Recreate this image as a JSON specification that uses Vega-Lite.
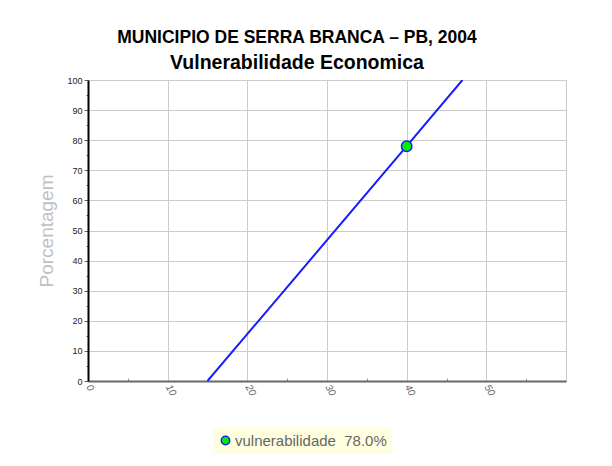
{
  "$schema": "https://vega.github.io/schema/vega-lite/v6.json",
  "width": 478,
  "height": 301,
  "autosize": "none",
  "padding": {"left": 88, "top": 80, "right": 46, "bottom": 85},
  "background": "white",
  "title": {
    "text": "MUNICIPIO DE SERRA BRANCA – PB, 2004",
    "subtitle": "Vulnerabilidade Economica",
    "anchor": "middle",
    "frame": "group",
    "dx": -30,
    "offset": 4,
    "font": "Liberation Sans",
    "fontSize": 17.5,
    "fontWeight": "bold",
    "color": "#000000",
    "subtitleFont": "Liberation Sans",
    "subtitleFontSize": 19.5,
    "subtitleFontWeight": "bold",
    "subtitleColor": "#000000",
    "subtitlePadding": 7
  },
  "datasets": {
    "linha": [
      {"x": 15, "y": 0},
      {"x": 40, "y": 78},
      {"x": 47, "y": 100}
    ],
    "ponto": [
      {"x": 40, "y": 78, "serie": "vulnerabilidade  78.0%"}
    ]
  },
  "layer": [
    {
      "data": {"name": "linha"},
      "mark": {"type": "line", "color": "#1a1aff", "strokeWidth": 2, "clip": true},
      "encoding": {
        "x": {
          "field": "x", "type": "quantitative",
          "scale": {"domain": [0, 60], "nice": false, "zero": false},
          "axis": {
            "values": [0, 5, 10, 15, 20, 25, 30, 35, 40, 45, 50, 55],
            "tickCount": 40,
            "labelExpr": "datum.value % 10 === 0 ? datum.label : ''",
            "title": null,
            "labelAngle": 60,
            "labelAlign": "left",
            "labelBaseline": "middle",
            "labelFont": "Liberation Sans",
            "labelFontStyle": "italic",
            "labelFontSize": 10,
            "labelColor": "#666666",
            "labelPadding": 4,
            "labelOverlap": false,
            "domainColor": "#666666",
            "domainWidth": 2,
            "gridColor": "#cccccc",
            "gridWidth": 1,
            "gridOpacity": {"condition": {"test": "datum.value % 10 !== 0", "value": 0}, "value": 1},
            "tickColor": "#999999",
            "tickSize": {"condition": {"test": "datum.value % 10 !== 0", "value": -3}, "value": 0}
          }
        },
        "y": {
          "field": "y", "type": "quantitative",
          "scale": {"domain": [0, 100], "nice": false},
          "axis": {
            "values": [0, 5, 10, 15, 20, 25, 30, 35, 40, 45, 50, 55, 60, 65, 70, 75, 80, 85, 90, 95, 100],
            "tickCount": 40,
            "labelExpr": "datum.value % 10 === 0 ? datum.label : ''",
            "labelOverlap": false,
            "title": "Porcentagem",
            "titleFont": "Liberation Sans",
            "titleFontSize": 19,
            "titleFontWeight": "normal",
            "titleColor": "#c0c0c0",
            "titlePadding": 10,
            "labelFont": "Liberation Sans",
            "labelFontSize": 9,
            "labelColor": "#222222",
            "labelPadding": 2,
            "domainColor": "#000000",
            "domainWidth": 2,
            "gridColor": "#cccccc",
            "gridWidth": 1,
            "gridOpacity": {"condition": {"test": "datum.value % 10 !== 0", "value": 0}, "value": 1},
            "tickColor": "#666666",
            "tickSize": {"condition": {"test": "datum.value % 10 !== 0", "value": 2}, "value": 4}
          }
        }
      }
    },
    {
      "data": {"name": "ponto"},
      "mark": {"type": "point", "filled": true, "size": 110, "stroke": "#1a1aff", "strokeWidth": 1.5, "opacity": 1},
      "encoding": {
        "x": {"field": "x", "type": "quantitative"},
        "y": {"field": "y", "type": "quantitative"},
        "color": {
          "field": "serie", "type": "nominal",
          "scale": {"range": ["#00ee00"]},
          "legend": {
            "title": null,
            "orient": "none",
            "legendX": 125,
            "legendY": 348,
            "fillColor": "#ffffe0",
            "padding": 5,
            "symbolType": "circle",
            "symbolSize": 70,
            "symbolStrokeColor": "#1a1aff",
            "symbolStrokeWidth": 1.5,
            "symbolOpacity": 1,
            "labelFont": "Liberation Sans",
            "labelFontSize": 15,
            "labelColor": "#666666",
            "labelOffset": 2,
            "labelExpr": "'vulnerabilidade\u00a0\u00a078.0%'"
          }
        }
      }
    }
  ],
  "config": {
    "view": {"stroke": "#cccccc", "strokeWidth": 1}
  }
}
